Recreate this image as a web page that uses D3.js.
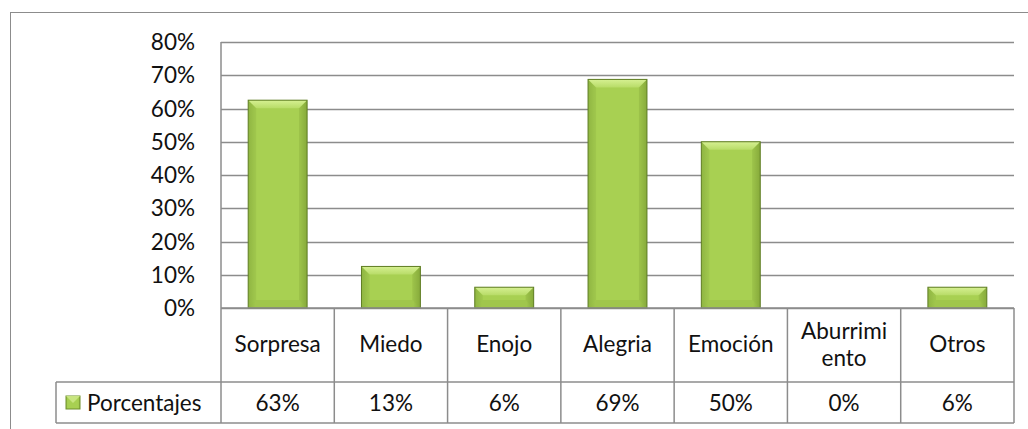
<!DOCTYPE html>
<html>
<head>
<meta charset="utf-8">
<script src="https://cdn.jsdelivr.net/npm/d3@7"></script>
<style>
  body { margin: 0; background: #fff; }
  svg text { font-family: Lato, "Open Sans", sans-serif; fill: #111; }
</style>
</head>
<body>
<svg id="chart" width="1028" height="429"></svg>
<script>
// datos del grafico
var categories = ["Sorpresa", "Miedo", "Enojo", "Alegria", "Emoción", "Aburrimiento", "Otros"];
var catLines = [["Sorpresa"], ["Miedo"], ["Enojo"], ["Alegria"], ["Emoción"], ["Aburrimi", "ento"], ["Otros"]];
var porcentajes = [0.625, 0.125, 0.0625, 0.6875, 0.5, 0, 0.0625];
var yTicks = [0, 0.1, 0.2, 0.3, 0.4, 0.5, 0.6, 0.7, 0.8];
var seriesName = "Porcentajes";

var svg = d3.select('#chart');
var plot = {left: 221, right: 1014, top: 42, bottom: 308};
var rowCat = 382, rowVal = 423, legendLeft = 56;
var grid = "#8c8c8c";
var fs = 22.5;

// gradientes de las barras
var defs = svg.append('defs');
var g1 = defs.append('linearGradient').attr('id', 'barFill').attr('x1', 0).attr('x2', 1).attr('y1', 0).attr('y2', 0);
g1.append('stop').attr('offset', '0%').attr('stop-color', '#94bb45');
g1.append('stop').attr('offset', '12%').attr('stop-color', '#a8d052');
g1.append('stop').attr('offset', '88%').attr('stop-color', '#a8d052');
g1.append('stop').attr('offset', '100%').attr('stop-color', '#8bb03e');
var g2 = defs.append('linearGradient').attr('id', 'bevelTop').attr('x1', 0).attr('x2', 0).attr('y1', 0).attr('y2', 1);
g2.append('stop').attr('offset', '0%').attr('stop-color', '#d6f092');
g2.append('stop').attr('offset', '100%').attr('stop-color', '#b8dc68');

// marco exterior
svg.append('rect').attr('x', 10.5).attr('y', 12.5).attr('width', 1030).attr('height', 430)
  .attr('fill', 'none').attr('stroke', '#8c8c8c');

var x = d3.scaleBand().domain(categories).range([plot.left, plot.right]).padding(0);
var y = d3.scaleLinear().domain([0, 0.8]).range([plot.bottom, plot.top]);

// lineas de cuadricula
svg.append('g').selectAll('line').data(yTicks).enter().append('line')
  .attr('x1', plot.left).attr('x2', plot.right)
  .attr('y1', d => Math.round(y(d)) + 0.5).attr('y2', d => Math.round(y(d)) + 0.5)
  .attr('stroke', grid).attr('stroke-width', 1.5);

// etiquetas eje y
svg.append('g').selectAll('text').data(yTicks).enter().append('text')
  .attr('x', 195).attr('y', d => y(d) + 8)
  .attr('text-anchor', 'end').attr('font-size', fs)
  .text(d => Math.round(d * 100) + '%');

// barras
var bw = x.bandwidth() * 0.52;
var bev = 8;
var bars = svg.append('g').selectAll('g').data(categories).enter().append('g')
  .attr('transform', d => 'translate(' + (x(d) + (x.bandwidth() - bw) / 2) + ',0)');

bars.each(function(d, i) {
  var v = porcentajes[i];
  if (v <= 0) return;
  var g = d3.select(this);
  var top = y(v), h = plot.bottom - top;
  var b = Math.min(bev, h / 2);
  g.append('rect').attr('x', 0).attr('y', top).attr('width', bw).attr('height', h)
    .attr('fill', 'url(#barFill)');
  g.append('path')
    .attr('d', 'M0,' + top + 'L' + bw + ',' + top + 'L' + (bw - b) + ',' + (top + b) + 'L' + b + ',' + (top + b) + 'Z')
    .attr('fill', 'url(#bevelTop)');
  g.append('path')
    .attr('d', 'M' + bw + ',' + top + 'L' + bw + ',' + plot.bottom + 'L' + (bw - b) + ',' + (plot.bottom - b) + 'L' + (bw - b) + ',' + (top + b) + 'Z')
    .attr('fill', '#7f9f36').attr('opacity', 0.3);
  g.append('path')
    .attr('d', 'M0,' + top + 'L0,' + plot.bottom + 'L' + b + ',' + (plot.bottom - b) + 'L' + b + ',' + (top + b) + 'Z')
    .attr('fill', '#7f9f36').attr('opacity', 0.2);
  g.append('path')
    .attr('d', 'M0,' + plot.bottom + 'L' + bw + ',' + plot.bottom + 'L' + (bw - b) + ',' + (plot.bottom - b) + 'L' + b + ',' + (plot.bottom - b) + 'Z')
    .attr('fill', '#6f8f2c').attr('opacity', 0.15);
  g.append('rect').attr('x', 0).attr('y', top).attr('width', bw).attr('height', h)
    .attr('fill', 'none').attr('stroke', '#5f7d24').attr('stroke-width', 1);
});

// tabla de datos
var tbl = svg.append('g').attr('stroke', grid).attr('stroke-width', 1.5).attr('fill', 'none');
tbl.append('line').attr('x1', plot.left).attr('x2', plot.left).attr('y1', plot.top).attr('y2', rowVal);
tbl.append('line').attr('x1', plot.left).attr('x2', plot.right).attr('y1', plot.bottom).attr('y2', plot.bottom);
tbl.append('line').attr('x1', legendLeft).attr('x2', plot.right).attr('y1', rowCat).attr('y2', rowCat);
tbl.append('line').attr('x1', legendLeft).attr('x2', plot.right).attr('y1', rowVal).attr('y2', rowVal);
tbl.append('line').attr('x1', legendLeft).attr('x2', legendLeft).attr('y1', rowCat).attr('y2', rowVal);
tbl.selectAll('line.v').data(categories).enter().append('line')
  .attr('x1', d => x(d) + x.bandwidth()).attr('x2', d => x(d) + x.bandwidth())
  .attr('y1', plot.bottom).attr('y2', rowVal);

// categorias
svg.append('g').selectAll('text').data(categories).enter().append('text')
  .attr('text-anchor', 'middle').attr('font-size', fs)
  .attr('x', d => x(d) + x.bandwidth() / 2)
  .each(function(d, i) {
    var lines = catLines[i];
    var mid = (plot.bottom + rowCat) / 2 + 7;
    var start = mid - (lines.length - 1) * 27 / 2;
    d3.select(this).selectAll('tspan').data(lines).enter().append('tspan')
      .attr('x', x(d) + x.bandwidth() / 2)
      .attr('y', (l, j) => start + j * 27)
      .text(l => l);
  });

// valores
svg.append('g').selectAll('text').data(categories).enter().append('text')
  .attr('text-anchor', 'middle').attr('font-size', fs)
  .attr('x', d => x(d) + x.bandwidth() / 2)
  .attr('y', (rowCat + rowVal) / 2 + 8)
  .text((d, i) => Math.round(porcentajes[i] * 100) + '%');

// leyenda
var lg = svg.append('g');
lg.append('rect').attr('x', 66).attr('y', 396).attr('width', 14).attr('height', 13)
  .attr('fill', 'url(#barFill)').attr('stroke', '#6f8f2c');
lg.append('path').attr('d', 'M66,396L80,396L73,403Z').attr('fill', '#c8e580');
lg.append('text').attr('x', 87).attr('y', (rowCat + rowVal) / 2 + 8).attr('font-size', fs).text(seriesName);
</script>
</body>
</html>
